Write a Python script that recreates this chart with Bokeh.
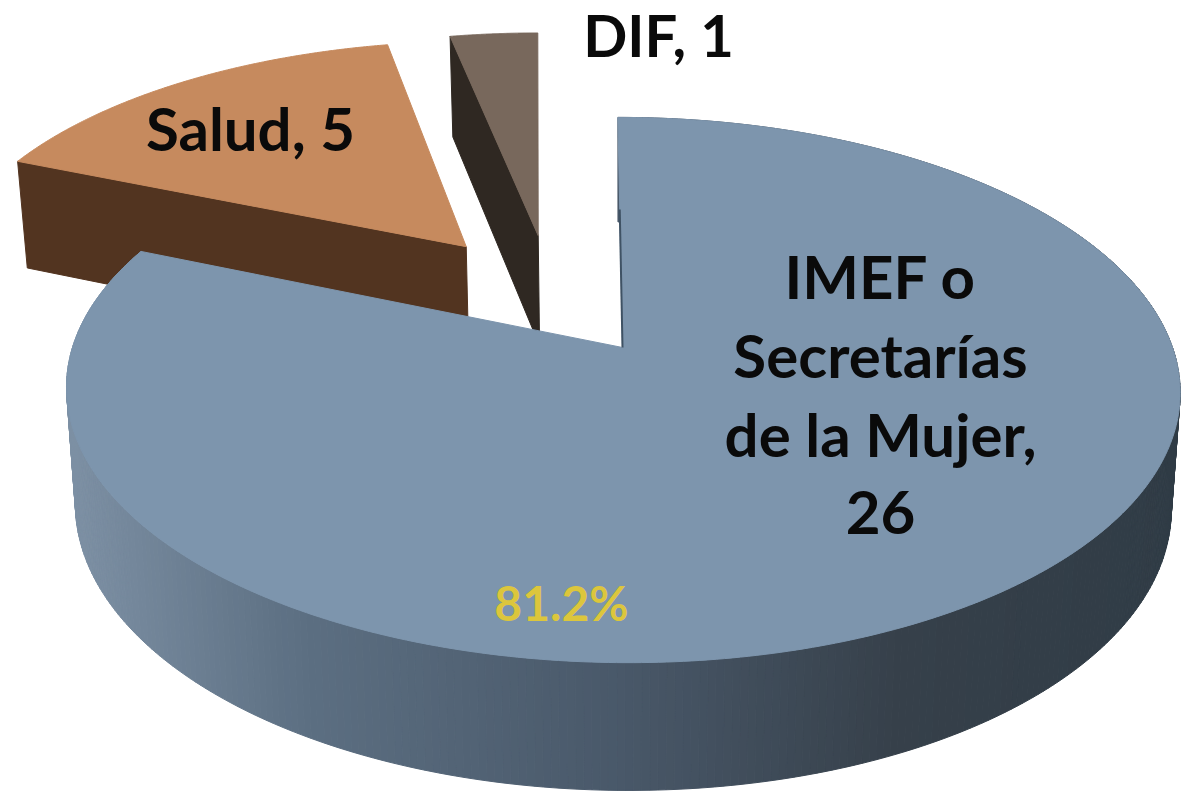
import numpy as np
from bokeh.plotting import figure
from bokeh.models import Range1d
from bokeh.core.properties import value
from bokeh.embed import file_html
from bokeh.resources import INLINE

# --- data ---
categories = ["IMEF o Secretarías de la Mujer", "Salud", "DIF"]
counts = [26, 5, 1]
percent_label = "81.2%"

# --- styles / layout ---
top_colors = ["#7d95ad", "#c68a5e", "#78685c"]
side_colors = [None, "#523420", "#2f2822"]
offsets = [(0.0, 0.0), (-0.302, 0.403), (-0.164, 0.45)]
skews = [0.02, 0.05, 0.055]
side_stops_x = [60, 300, 620, 900, 1181]
side_stops_rgb = [(126, 145, 165), (92, 111, 130), (73, 88, 105), (54, 64, 74), (48, 60, 70)]

CX, CY, A, B, K = 622.0, 347.0, 550.0, 266.0, 0.156
DEPTH, KD, SHRINK = 115.0, 0.10, 0.984


def top(X, Y, i):
    d = 1 + K * np.asarray(Y)
    y = CY - B * np.asarray(Y) / d
    oy = offsets[i][1]
    ay = CY - B * oy / (1 + K * oy)
    return CX + A * np.asarray(X) / d + skews[i] * (y - ay), y


def bottom(X, Y, i):
    x, y = top(X, Y, i)
    return CX + (x - CX) * SHRINK, y + DEPTH / (1 + KD * np.asarray(Y))


def side_color(x):
    c = [np.interp(x, side_stops_x, [s[k] for s in side_stops_rgb]) for k in range(3)]
    return "#%02x%02x%02x" % tuple(int(round(v)) for v in c)


p = figure(width=1181, height=791, x_range=Range1d(0, 1181), y_range=Range1d(791, 0),
           output_backend="svg", toolbar_location=None, min_border=0)
p.axis.visible = False
p.grid.visible = False
p.outline_line_color = None
p.background_fill_color = "white"
p.border_fill_color = "white"

fractions = np.cumsum([0] + counts) / sum(counts)
# every slice runs clockwise from the top; the largest comes first
spans = [(fractions[i], fractions[i + 1]) for i in range(len(counts))]


def rim(i, n=160):
    t = np.linspace(spans[i][0], spans[i][1], n) * 2 * np.pi
    ox, oy = offsets[i]
    return np.sin(t) + ox, np.cos(t) + oy


# back slices first, then the large one over them
for i in [1, 2]:
    X, Y = rim(i)
    ox, oy = offsets[i]
    ax, ay = top(ox, oy, i)
    bax, bay = bottom(ox, oy, i)
    sx, sy = top(X[0], Y[0], i)
    bsx, bsy = bottom(X[0], Y[0], i)
    p.patch([sx, ax, bax, bsx], [sy, ay, bay, bsy], fill_color=side_colors[i],
            line_color=side_colors[i], line_width=1)
    tx, ty = top(X, Y, i)
    p.patch(list(tx) + [ax], list(ty) + [ay], fill_color=top_colors[i],
            line_color=top_colors[i], line_width=1)

# outer wall of the large slice, drawn as shaded strips
X, Y = rim(0, 400)
tx, ty = top(X, Y, 0)
bx, by = bottom(X, Y, 0)
xs, ys, cols = [], [], []
for j in range(len(X) - 1):
    xs.append([tx[j], tx[j + 1], bx[j + 1], bx[j]])
    ys.append([ty[j], ty[j + 1], by[j + 1], by[j]])
    cols.append(side_color((tx[j] + tx[j + 1]) / 2))
p.patches(xs, ys, fill_color=cols, line_color=cols, line_width=1)

ax, ay = top(*offsets[0], 0)
p.patch(list(tx) + [ax], list(ty) + [ay], fill_color=top_colors[0],
        line_color=top_colors[0], line_width=1)
# thin dark cut face along the start of the large slice
f = 0.4
p.line([tx[0] + (ax - tx[0]) * f, ax], [ty[0] + (ay - ty[0]) * f, ay],
       line_color="#3f5264", line_width=2)

font = value("Lato")
labels = [("Salud, 5", 250, 127), ("IMEF o", 880, 275), ("Secretarías", 880, 354),
          ("de la Mujer,", 880, 433), ("26", 880, 512)]
p.text([l[1] for l in labels], [l[2] for l in labels], text=[l[0] for l in labels],
       text_font=font, text_font_style="bold", text_font_size="60px",
       text_align="center", text_baseline="middle", text_color="#0a0a0a")
p.text([658], [34], text=["DIF, 1"], text_font=font, text_font_style="bold",
       text_font_size="58px", text_align="center", text_baseline="middle",
       text_color="#0a0a0a")
p.text([561], [602], text=[percent_label], text_font=font, text_font_style="bold",
       text_font_size="48px", text_align="center", text_baseline="middle",
       text_color="#dcc63c")

open("out.html", "w").write(file_html(p, INLINE))
